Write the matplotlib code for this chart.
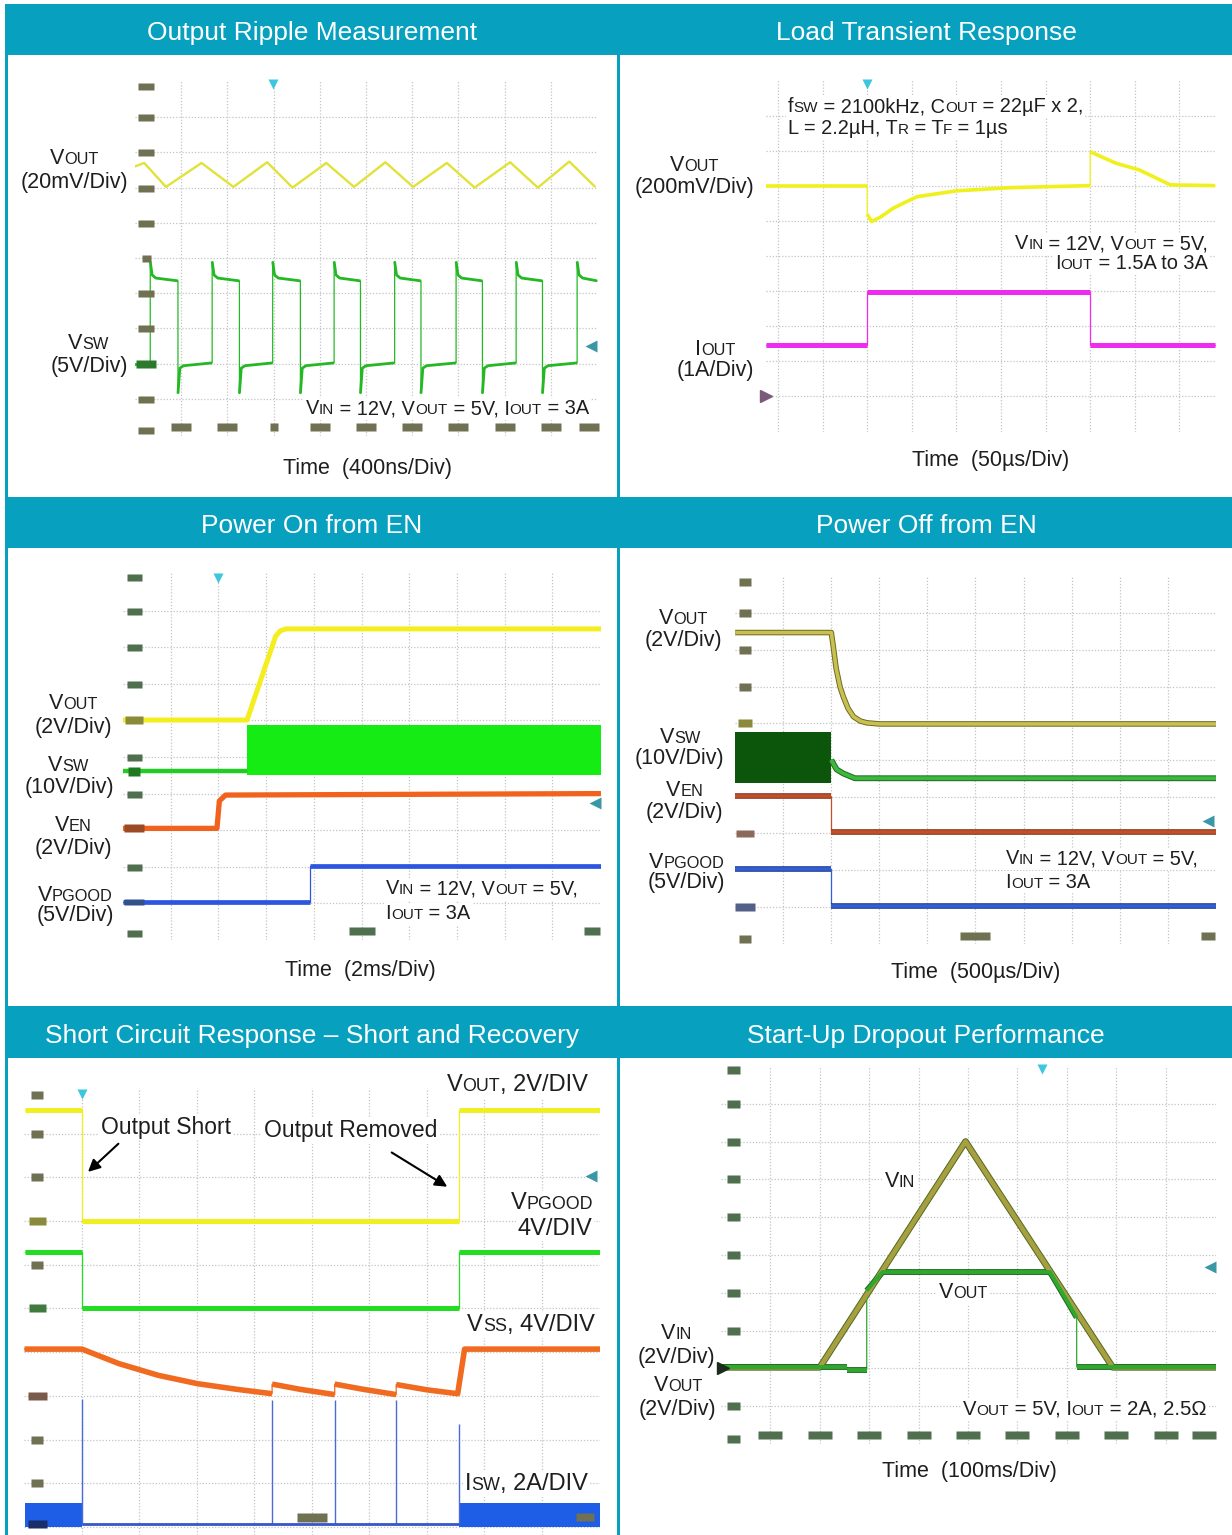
import re
import numpy as np
import matplotlib.pyplot as plt
from matplotlib.patches import Rectangle
from matplotlib.offsetbox import TextArea, HPacker, AnnotationBbox

plt.rcParams['font.family'] = ['Liberation Sans', 'DejaVu Sans']

# ---- data (x = time divisions, y = screen divisions)
# Output ripple
rip_vout_t = [0.00, 0.20, 0.67, 1.44, 2.13, 2.86, 3.41, 4.14, 4.74, 5.42, 6.02, 6.75, 7.35, 8.12, 8.72, 9.40, 9.96]
rip_vout_v = [7.60, 7.70, 7.02, 7.70, 7.02, 7.72, 7.00, 7.70, 7.02, 7.72, 7.02, 7.70, 7.00, 7.72, 7.00, 7.74, 7.02]
rip_sw_rise = [0.33, 1.67, 2.98, 4.31, 5.62, 6.95, 8.25, 9.57]
rip_sw_fall = [0.93, 2.26, 3.58, 4.88, 6.19, 7.52, 8.82]
rip_sw_high, rip_sw_low = 4.40, 1.97
rip_sw_peak, rip_sw_dip = 4.90, 1.15

# Load transient
lt_vout_t = [-0.27, 2.00, 2.00, 2.10, 2.30, 2.58, 3.11, 4.00, 5.20, 7.00, 7.00, 7.58, 8.10, 8.80, 9.80]
lt_vout_v = [7.02, 7.02, 6.20, 5.99, 6.12, 6.37, 6.70, 6.87, 6.96, 7.02, 7.99, 7.66, 7.47, 7.04, 7.02]
lt_iout_t = [-0.27, 2.00, 2.00, 7.00, 7.00, 9.80]
lt_iout_v = [2.45, 2.45, 3.98, 3.98, 2.45, 2.45]

# Power on from EN
on_vout_t = [0.00, 2.60, 3.20, 3.30, 3.42, 10.02]
on_vout_v = [6.01, 6.01, 8.30, 8.45, 8.50, 8.50]
on_vsw_t = [0.00, 2.60]
on_vsw_v = [4.63, 4.63]
on_band_t = [2.60, 10.02]
on_band_lo, on_band_hi = 4.51, 5.87
on_ven_t = [0.00, 1.97, 2.02, 2.15, 10.02]
on_ven_v = [3.05, 3.05, 3.80, 3.96, 4.00]
on_pg_t = [0.00, 3.91, 3.91, 10.02]
on_pg_v = [1.05, 1.05, 2.03, 2.03]

# Power off from EN
off_vout_t = [0.00, 2.00, 2.04, 2.10, 2.18, 2.25, 2.35, 2.46, 2.60, 2.74, 3.00, 10.02]
off_vout_v = [8.47, 8.47, 8.10, 7.50, 7.00, 6.72, 6.40, 6.18, 6.06, 6.01, 5.98, 5.98]
off_band_t = [0.00, 2.00]
off_band_lo, off_band_hi = 4.38, 5.77
off_vsw_t = [2.00, 2.11, 2.25, 2.49, 10.02]
off_vsw_v = [5.00, 4.74, 4.63, 4.50, 4.50]
off_ven_t = [0.00, 2.00, 2.00, 10.02]
off_ven_v = [4.02, 4.02, 3.04, 3.04]
off_pg_t = [0.00, 2.00, 2.00, 10.02]
off_pg_v = [2.02, 2.02, 1.02, 1.02]

# Short circuit
sc_edge_t = [0.00, 1.00, 1.00, 7.56, 7.56, 10.02]
sc_vout_v = [9.54, 9.54, 6.99, 6.99, 9.54, 9.54]
sc_pg_v = [6.28, 6.28, 5.00, 5.00, 6.28, 6.28]
sc_vss_t = [0.00, 1.00, 1.64, 2.33, 3.01, 3.70, 4.31, 4.31, 4.80, 5.40, 5.40, 5.90, 6.47, 6.47, 7.00, 7.54, 7.66, 10.02]
sc_vss_v = [4.07, 4.07, 3.74, 3.47, 3.28, 3.15, 3.05, 3.27, 3.15, 3.03, 3.27, 3.15, 3.03, 3.26, 3.14, 3.05, 4.07, 4.07]
sc_isw_t = [1.00, 7.56]
sc_isw_v = [0.07, 0.07]
sc_spike_t = [1.00, 4.31, 5.40, 6.47, 7.56]
sc_spike_v = [2.93, 2.90, 2.90, 2.90, 2.35]
sc_blk1_t = [0.00, 1.00]
sc_blk2_t = [7.56, 10.02]
sc_blk_lo, sc_blk_hi = 0.00, 0.54

# Start-up dropout
dr_vin_t = [0.00, 2.00, 4.95, 7.93, 10.02]
dr_vin_v = [2.03, 2.03, 8.00, 2.03, 2.03]
dr_vout_t = [0.00, 2.55, 2.55, 2.95, 2.95, 3.27, 6.66, 7.20, 7.20, 10.02]
dr_vout_v = [2.03, 2.03, 1.97, 1.97, 4.06, 4.55, 4.55, 3.35, 2.04, 2.04]

titles = ['Output Ripple Measurement', 'Load Transient Response',
          'Power On from EN', 'Power Off from EN',
          'Short Circuit Response \u2013 Short and Recovery', 'Start-Up Dropout Performance']

# ---- figure
W, H = 1232, 1535
TEAL = '#07a0bf'
TXT = '#1e1e1e'
GRID = '#c4c4c4'
TAG = '#707052'
TAGG = '#4f6f4f'
LS = 15.5   # channel label size
AS = 14.4   # condition text size

fig = plt.figure(figsize=(W / 100, H / 100), dpi=100)
fig.patch.set_facecolor('white')


def rect(x0, y0, x1, y1, color):
    fig.add_artist(Rectangle((x0 / W, 1 - y1 / H), (x1 - x0) / W, (y1 - y0) / H,
                             transform=fig.transFigure, facecolor=color, edgecolor='none', zorder=1))


def text(x, y, s, size=LS, ha='center', bg=False, color=TXT):
    # "{...}" marks the small-caps subscript part, e.g. V{OUT}
    kids = []
    for p in re.split(r'(\{[^}]*\})', s):
        if not p:
            continue
        if p.startswith('{'):
            kids.append(TextArea(p[1:-1], textprops=dict(fontsize=size * 0.76, color=color)))
        else:
            kids.append(TextArea(p, textprops=dict(fontsize=size, color=color)))
    box = HPacker(children=kids, align='baseline', pad=0, sep=0)
    hx = {'left': 0.0, 'center': 0.5, 'right': 1.0}[ha]
    ab = AnnotationBbox(box, (x / W, 1 - (y + 0.10 * size / 0.72) / H), xycoords='figure fraction',
                        box_alignment=(hx, 0.5), frameon=bg, pad=0.12,
                        bboxprops=dict(fc='white', ec='none'))
    ab.set_zorder(6)
    fig.add_artist(ab)


def scope(crop, x0, dx, y0, dy):
    L, T, R, B = crop
    ax = fig.add_axes([L / W, 1 - B / H, (R - L) / W, (B - T) / H])
    xa, xb = (L - x0) / dx, (R - x0) / dx
    ya, yb = (y0 - B) / dy, (y0 - T) / dy
    ax.set_xlim(xa, xb)
    ax.set_ylim(ya, yb)
    ax.axis('off')
    for k in range(11):
        if xa + 0.1 < k < xb - 0.1:
            ax.axvline(k, color=GRID, lw=0.9, ls=(0, (1, 1.5)), zorder=1)
        if ya + 0.1 < k < yb - 0.1:
            ax.axhline(k, color=GRID, lw=0.9, ls=(0, (1, 1.5)), zorder=1)
    return ax


def trace(ax, t, v, color, lw, edge=None, thin=0.9):
    t = np.asarray(t, float)
    v = np.asarray(v, float)
    ax.plot(t, v, color=color, lw=thin, zorder=3)
    cuts = np.where(np.diff(t) == 0)[0]
    start = 0
    for stop in list(cuts) + [len(t) - 1]:
        if stop > start:
            if edge:
                ax.plot(t[start:stop + 1], v[start:stop + 1], color=edge, lw=lw + 1.4,
                        solid_capstyle='butt', zorder=3)
            ax.plot(t[start:stop + 1], v[start:stop + 1], color=color, lw=lw,
                    solid_capstyle='butt', zorder=4)
        start = stop + 1


def tags(ax, xs, ys, color, w=14, h=7):
    xs, ys = np.broadcast_arrays(np.asarray(xs, float), np.asarray(ys, float))
    verts = [(-w / 2, -h / 2), (w / 2, -h / 2), (w / 2, h / 2), (-w / 2, h / 2), (-w / 2, -h / 2)]
    ax.plot(xs, ys, ls='none', marker=verts, ms=max(w, h) * 0.72, color=color,
            mec='none', clip_on=False, zorder=5)


def trig(ax, x, y):
    ax.plot([x], [y], ls='none', marker='v', ms=7, color='#3cc6df', mec='none', clip_on=False, zorder=5)


def rmark(ax, x, y):
    ax.plot([x], [y], ls='none', marker='<', ms=8, color='#3a98a6', mec='none', clip_on=False, zorder=5)


# ---- frame and headers
for y0, y1 in [(4, 55), (497, 548), (1006, 1058)]:
    rect(5, y0, W, y1, TEAL)
rect(4.5, 4, 7.5, H, TEAL)
rect(617, 4, 620, H, TEAL)
for i, ttl in enumerate(titles):
    text([312, 926][i % 2], [30, 523, 1033][i // 2], ttl, size=19, color='white')

# ---- 1: output ripple
ax = scope((135, 80, 598, 436), 135, 46.2, 434, 35.2)
trace(ax, rip_vout_t, rip_vout_v, '#e2e23c', 1.7)
sw_t, sw_v = [0.0], [rip_sw_low]
for i, r in enumerate(rip_sw_rise):
    sw_t += [r, r, r + 0.04, r + 0.12]
    sw_v += [rip_sw_low + 0.05, rip_sw_peak, rip_sw_high + 0.12, rip_sw_high + 0.03]
    if i < len(rip_sw_fall):
        f = rip_sw_fall[i]
        sw_t += [f, f, f + 0.04, f + 0.12]
        sw_v += [rip_sw_high - 0.05, rip_sw_dip, rip_sw_low - 0.10, rip_sw_low - 0.03]
    else:
        sw_t += [10.0]
        sw_v += [rip_sw_high - 0.05]
trace(ax, sw_t, sw_v, '#25b825', 2.0)
tags(ax, 0.24, [9.89, 9, 8, 7, 6, 4, 3, 1, 0.11], TAG, 16, 7)
tags(ax, 0.24, [5], TAG, 9, 7)
tags(ax, 0.24, [2], '#2b7a2b', 20, 8)
tags(ax, [1, 2, 4, 5, 6, 7, 8, 9, 9.83], 0.2, TAG, 20, 8)
tags(ax, [3], 0.2, TAG, 8, 8)
trig(ax, 2.99, 9.94)
rmark(ax, 9.87, 2.51)
text(74.3, 156.7, 'V{OUT}')
text(74.3, 180, '(20mV/Div)')
text(88, 341.7, 'V{SW}')
text(89, 364.3, '(5V/Div)')
text(589, 406.7, 'V{IN} = 12V, V{OUT} = 5V, I{OUT} = 3A', size=AS, ha='right', bg=True)
text(367.7, 466.7, 'Time  (400ns/Div)')

# ---- 2: load transient
ax = scope((766, 80, 1216, 432), 778, 44.6, 430.6, 34.9)
trace(ax, lt_vout_t, lt_vout_v, '#f0f01c', 2.6)
trace(ax, lt_iout_t, lt_iout_v, '#ee2cee', 3.6)
ax.plot([-0.27], [1.0], ls='none', marker='>', ms=8, color='#7a5a7a', clip_on=False, zorder=5)
trig(ax, 2.0, 9.93)
text(694, 163, 'V{OUT}')
text(694, 185, '(200mV/Div)')
text(715.6, 347.7, 'I{OUT}')
text(715.6, 368, '(1A/Div)')
text(787.8, 105, 'f{SW} = 2100kHz, C{OUT} = 22\u00b5F x 2,', size=AS, ha='left', bg=True)
text(787.8, 126.7, 'L = 2.2\u00b5H, T{R} = T{F} = 1\u00b5s', size=AS, ha='left', bg=True)
text(1207.4, 241.7, 'V{IN} = 12V, V{OUT} = 5V,', size=AS, ha='right', bg=True)
text(1207.4, 261.7, 'I{OUT} = 1.5A to 3A', size=AS, ha='right', bg=True)
text(990.4, 458, 'Time  (50\u00b5s/Div)')

# ---- 3: power on from EN
ax = scope((123, 572, 601, 940), 123, 47.7, 940, 36.6)
ax.fill_between(on_band_t, on_band_lo, on_band_hi, color='#14ec14', lw=0, zorder=3)
trace(ax, on_vsw_t, on_vsw_v, '#22cc22', 3.2)
trace(ax, on_vout_t, on_vout_v, '#f4ee1e', 3.6)
trace(ax, on_ven_t, on_ven_v, '#f0621e', 3.8)
trace(ax, on_pg_t, on_pg_v, '#2c56e0', 3.4)
tags(ax, 0.24, [9.92, 9, 8, 7, 5, 4, 2, 0.18], TAGG, 15, 7)
tags(ax, 0.24, [6.01], '#8a8a3a', 18, 8)
tags(ax, 0.24, [4.63], '#1f7a1f', 12, 9)
tags(ax, 0.24, [3.05], '#9a4a25', 20, 8)
tags(ax, 0.24, [1.05], '#34508a', 20, 7)
tags(ax, [5.0], 0.25, TAGG, 26, 8)
tags(ax, [9.83], 0.25, TAGG, 16, 8)
trig(ax, 2.0, 9.9)
rmark(ax, 9.9, 3.73)
text(73.2, 701.7, 'V{OUT}')
text(73.2, 725, '(2V/Div)')
text(68, 763.3, 'V{SW}')
text(69.2, 785, '(10V/Div)')
text(73.2, 823.3, 'V{EN}')
text(73.2, 846.7, '(2V/Div)')
text(75.1, 893.3, 'V{PGOOD}')
text(75.1, 913.3, '(5V/Div)')
text(385.5, 886.7, 'V{IN} = 12V, V{OUT} = 5V,', size=AS, ha='left', bg=True)
text(385.5, 911.7, 'I{OUT} = 3A', size=AS, ha='left', bg=True)
text(360.6, 968.3, 'Time  (2ms/Div)')

# ---- 4: power off from EN
ax = scope((735, 576, 1216, 944), 735.2, 48.05, 943.4, 36.7)
ax.fill_between(off_band_t, off_band_lo, off_band_hi, color='#0b560b', lw=0, zorder=3)
trace(ax, off_vsw_t, off_vsw_v, '#3cb83c', 2.8, edge='#1d6a1d')
trace(ax, off_vout_t, off_vout_v, '#c8c050', 2.6, edge='#6e6a20')
trace(ax, off_ven_t, off_ven_v, '#c4502a', 2.6, edge='#7a2e14')
trace(ax, off_pg_t, off_pg_v, '#3060d8', 2.6, edge='#1c2f80')
tags(ax, 0.2, [9.86, 9, 8, 7, 0.11], TAG, 12, 8)
tags(ax, 0.2, [6.01], '#8a8a3a', 14, 8)
tags(ax, 0.2, [3.0], '#8c6a5a', 18, 7)
tags(ax, 0.2, [1.0], '#52608a', 20, 8)
tags(ax, [5.0], 0.21, TAG, 30, 8)
tags(ax, [9.83], 0.21, TAG, 14, 8)
rmark(ax, 9.83, 3.34)
text(683.6, 616.7, 'V{OUT}')
text(683.6, 638.3, '(2V/Div)')
text(680.5, 735, 'V{SW}')
text(679.7, 756.7, '(10V/Div)')
text(684.4, 788.3, 'V{EN}')
text(684.4, 810, '(2V/Div)')
text(686.4, 860, 'V{PGOOD}')
text(686.4, 880, '(5V/Div)')
text(1005.6, 856.7, 'V{IN} = 12V, V{OUT} = 5V,', size=AS, ha='left', bg=True)
text(1005.6, 880, 'I{OUT} = 3A', size=AS, ha='left', bg=True)
text(976, 970, 'Time  (500\u00b5s/Div)')

# ---- 5: short circuit
ax = scope((24, 1088, 600, 1535), 24.5, 57.45, 1527.1, 43.73)
ax.fill_between(sc_blk1_t, sc_blk_lo, sc_blk_hi, color='#1e5ee6', lw=0, zorder=3)
ax.fill_between(sc_blk2_t, sc_blk_lo, sc_blk_hi, color='#1e5ee6', lw=0, zorder=3)
trace(ax, sc_isw_t, sc_isw_v, '#3558cc', 2.0)
ax.vlines(sc_spike_t, sc_isw_v[0], sc_spike_v, color='#4a6ad8', lw=1.0, zorder=3)
trace(ax, sc_edge_t, sc_vout_v, '#f0f020', 3.6)
trace(ax, sc_edge_t, sc_pg_v, '#22dd22', 3.6)
trace(ax, sc_vss_t, sc_vss_v, '#f06a20', 4.0)
tags(ax, 0.21, [9.87, 9, 8, 6, 2, 1], TAG, 12, 8)
tags(ax, 0.21, [7.0], '#8a8a3a', 17, 8)
tags(ax, 0.21, [5.0], '#3f7a3f', 17, 8)
tags(ax, 0.21, [3.0], '#7a5a4a', 19, 8)
tags(ax, 0.21, [0.08], '#1a2c6a', 19, 8)
tags(ax, [5.0], 0.23, TAG, 30, 9)
tags(ax, [9.76], 0.23, TAG, 18, 8)
trig(ax, 1.0, 9.91)
rmark(ax, 9.86, 8.04)
ax.annotate('', xy=(1.07, 8.08), xytext=(1.67, 8.81),
            arrowprops=dict(arrowstyle='-|>', color='black', lw=1.5, mutation_scale=18), zorder=6)
ax.annotate('', xy=(7.40, 7.75), xytext=(6.35, 8.60),
            arrowprops=dict(arrowstyle='-|>', color='black', lw=1.5, mutation_scale=18), zorder=6)
text(588, 1082.8, 'V{OUT}, 2V/DIV', size=17, ha='right', bg=True)
text(100.8, 1125, 'Output Short', size=16.5, ha='left', bg=True)
text(264.1, 1128.4, 'Output Removed', size=16.5, ha='left', bg=True)
text(593.1, 1201, 'V{PGOOD}', size=17, ha='right', bg=True)
text(592, 1226.4, '4V/DIV', size=17, ha='right', bg=True)
text(595, 1322.8, 'V{SS}, 4V/DIV', size=17, ha='right', bg=True)
text(588, 1481.7, 'I{SW}, 2A/DIV', size=17, ha='right', bg=True)

# ---- 6: start-up dropout
ax = scope((721, 1066, 1216, 1444), 721, 49.4, 1444.1, 37.82)
trace(ax, dr_vin_t, dr_vin_v, '#a8a040', 3.4, edge='#4e6a1e')
trace(ax, dr_vout_t, dr_vout_v, '#2fa82f', 2.8, edge='#1f6a1f')
tags(ax, 0.25, [9.89, 9, 8, 7, 6, 5, 4, 3, 1, 0.14], TAGG, 13, 8)
ax.plot([0.05], [2.0], ls='none', marker='>', ms=8, color='#1c2c1c', clip_on=False, zorder=5)
tags(ax, [1, 2, 3, 4, 5, 6, 7, 8, 9, 9.78], 0.23, TAGG, 24, 8)
trig(ax, 6.5, 9.91)
rmark(ax, 9.89, 4.68)
text(899.9, 1179.1, 'V{IN}', bg=True)
text(963.5, 1290.7, 'V{OUT}', bg=True)
text(676.6, 1331.2, 'V{IN}')
text(676.6, 1355, '(2V/Div)')
text(677.8, 1383.6, 'V{OUT}')
text(677.8, 1407.3, '(2V/Div)')
text(1206.7, 1407.3, 'V{OUT} = 5V, I{OUT} = 2A, 2.5\u03a9', size=14.6, ha='right', bg=True)
text(969.3, 1469.8, 'Time  (100ms/Div)')

fig.savefig('out.png', dpi=100)
